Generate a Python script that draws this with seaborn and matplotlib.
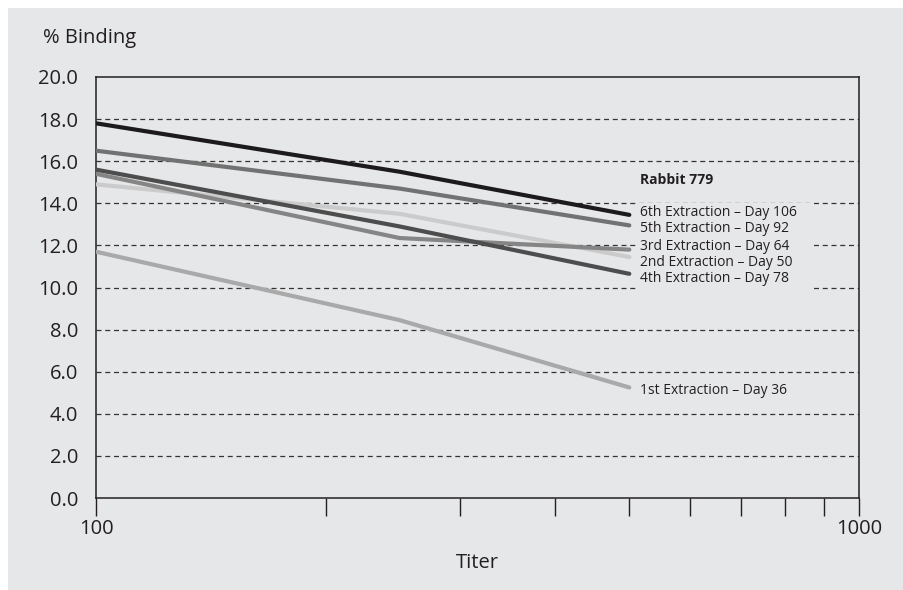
import pandas as pd
import matplotlib.pyplot as plt
import matplotlib.patches as mpatches
from matplotlib.ticker import NullFormatter, LogLocator
import seaborn as sns

# Datos
titer = [100, 250, 500]
ext6 = [17.8, 15.5, 13.45]
ext5 = [16.5, 14.7, 12.95]
ext4 = [15.6, 12.9, 10.65]
ext3 = [15.4, 12.35, 11.8]
ext2 = [14.9, 13.5, 11.45]
ext1 = [11.7, 8.45, 5.25]

series = {
    "6th Extraction – Day 106": ext6,
    "5th Extraction – Day 92": ext5,
    "4th Extraction – Day 78": ext4,
    "3rd Extraction – Day 64": ext3,
    "2nd Extraction – Day 50": ext2,
    "1st Extraction – Day 36": ext1,
}
colores = {
    "6th Extraction – Day 106": "#1c1a1b",
    "5th Extraction – Day 92": "#727272",
    "4th Extraction – Day 78": "#4d4d4d",
    "3rd Extraction – Day 64": "#858585",
    "2nd Extraction – Day 50": "#cbcbcb",
    "1st Extraction – Day 36": "#a9a9a9",
}

df = pd.DataFrame(
    [(nombre, t, v) for nombre, vals in series.items() for t, v in zip(titer, vals)],
    columns=["serie", "Titer", "Binding"],
)

sns.set_style("ticks")
plt.rcParams["font.family"] = ["Open Sans", "DejaVu Sans"]

bg = "#e6e7e9"
fig = plt.figure(figsize=(9.04, 5.9), dpi=100, facecolor=bg)
# margen blanco arriba e izquierda
fig.patches.append(mpatches.Rectangle((0, 1 - 8 / 590), 1, 8 / 590, transform=fig.transFigure,
                                      facecolor="white", edgecolor="none", zorder=-10))
fig.patches.append(mpatches.Rectangle((0, 0), 8 / 904, 1, transform=fig.transFigure,
                                      facecolor="white", edgecolor="none", zorder=-10))
ax = fig.add_axes([96 / 904, 1 - 498 / 590, 763 / 904, 421 / 590])
ax.set_facecolor(bg)

# orden de dibujo: claras primero, oscura encima
orden = ["1st Extraction – Day 36", "2nd Extraction – Day 50", "3rd Extraction – Day 64",
         "4th Extraction – Day 78", "5th Extraction – Day 92", "6th Extraction – Day 106"]
for nombre in orden:
    d = df[df["serie"] == nombre]
    sns.lineplot(data=d, x="Titer", y="Binding", color=colores[nombre],
                 linewidth=3.0, ax=ax, legend=False, zorder=3)

ax.set_xscale("log")
ax.set_xlim(100, 1000)
ax.set_ylim(0, 20)
ax.set_yticks([0, 2, 4, 6, 8, 10, 12, 14, 16, 18, 20])
ax.set_yticklabels([f"{v:.1f}" for v in ax.get_yticks()])
ax.set_xticks([100, 1000])
ax.set_xticklabels(["100", "1000"])
ax.xaxis.set_minor_locator(LogLocator(base=10, subs=range(2, 10)))
ax.xaxis.set_minor_formatter(NullFormatter())
ax.tick_params(axis="y", length=0, pad=13, labelsize=14.5, colors="#231f20")
ax.tick_params(axis="x", which="major", length=13, width=1, direction="out",
               labelsize=14.5, colors="#231f20", pad=2)
ax.tick_params(axis="x", which="minor", length=13, width=1, direction="out", color="#231f20")
for s in ax.spines.values():
    s.set_color("#231f20")
    s.set_linewidth(1.1)

ax.set_axisbelow(True)
for v in range(2, 20, 2):
    ax.axhline(v, color="#333333", linestyle=(0, (4, 3)), linewidth=0.9, zorder=0.5)

# caja de fondo para las etiquetas
ax.add_patch(mpatches.Rectangle((0.709, 0.48), 0.231, 0.22, transform=ax.transAxes,
                                facecolor=bg, edgecolor="none", zorder=1))

ax.set_xlabel("Titer", fontsize=14.5, color="#231f20", labelpad=10)
ax.set_ylabel("")
fig.text(43 / 904, 1 - 38 / 590, "% Binding", fontsize=14.5, color="#231f20", va="center")

def px(y):
    return (498 - y) / 421

ax.text(0.713, px(180), "Rabbit 779", transform=ax.transAxes, fontsize=10,
        fontweight="bold", color="#231f20", va="center", zorder=4)
etiquetas = [
    ("6th Extraction – Day 106", 212),
    ("5th Extraction – Day 92", 228),
    ("3rd Extraction – Day 64", 246),
    ("2nd Extraction – Day 50", 262),
    ("4th Extraction – Day 78", 278),
    ("1st Extraction – Day 36", 390),
]
for txt, y in etiquetas:
    ax.text(0.713, px(y), txt, transform=ax.transAxes, fontsize=10,
            color="#231f20", va="center", zorder=4)

fig.savefig("out.png", dpi=100, facecolor=fig.get_facecolor())
